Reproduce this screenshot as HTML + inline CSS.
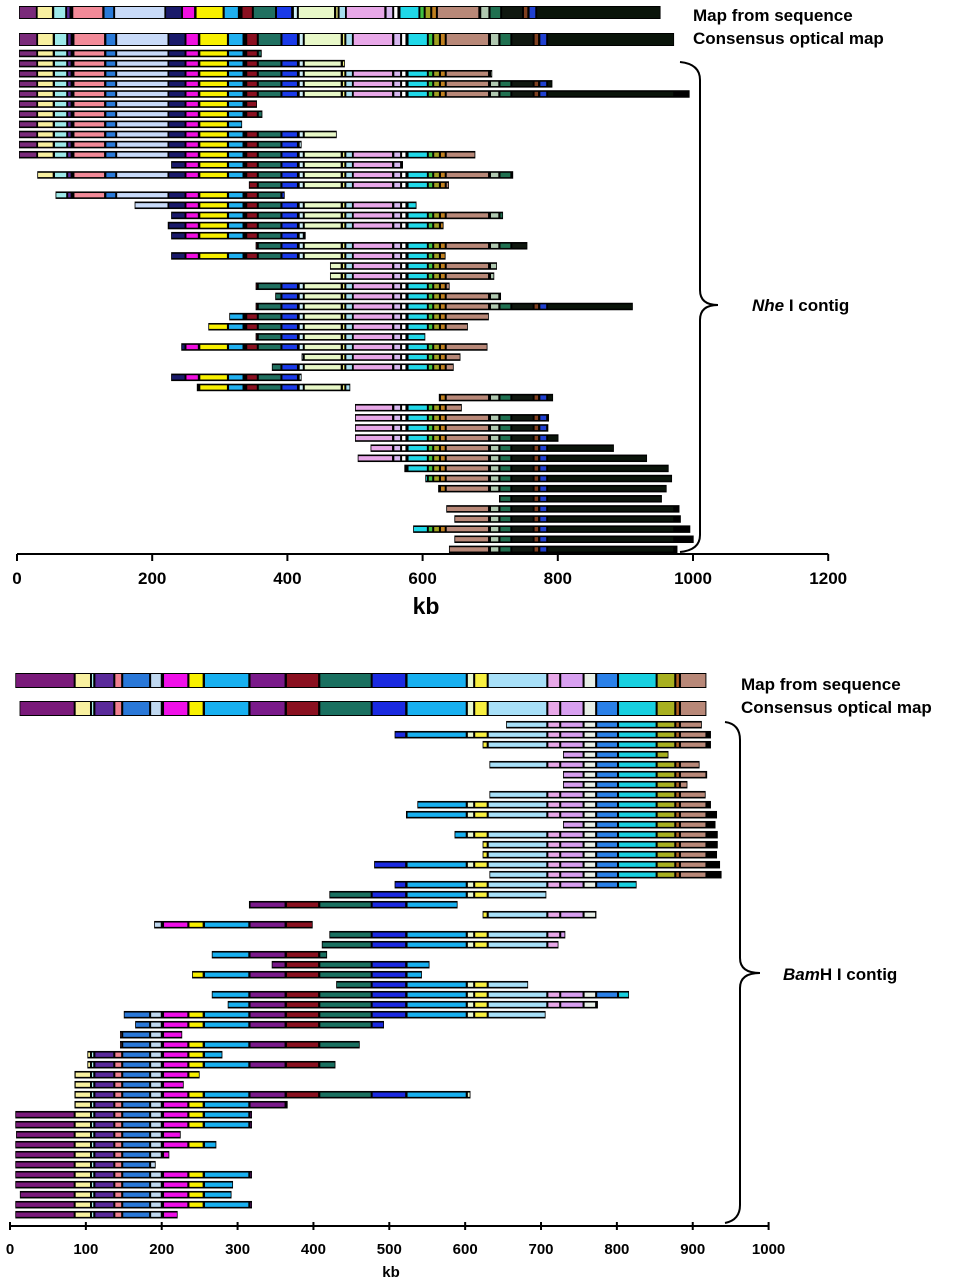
<!DOCTYPE html>
<html><head><meta charset="utf-8"><style>
html,body{margin:0;padding:0;background:#fff;}
svg{display:block;font-family:"Liberation Sans",sans-serif;}
</style></head><body>
<svg id="chart" width="953" height="1280" viewBox="0 0 953 1280" xmlns="http://www.w3.org/2000/svg">
<g id="top"></g>
<g id="bot"></g>
<text x="693" y="21" font-size="17" font-weight="bold">Map from sequence</text>
<text x="693" y="44" font-size="17" font-weight="bold">Consensus optical map</text>
<path d="M680,62 Q700,64 700,80 L700,290 Q700,305 718,305 Q700,305 700,320 L700,535 Q700,550 680,552" fill="none" stroke="#000" stroke-width="2"/>
<text x="752" y="311" font-size="17" font-weight="bold"><tspan font-style="italic">Nhe</tspan> I contig</text>
<text x="741" y="690" font-size="17" font-weight="bold">Map from sequence</text>
<text x="741" y="713" font-size="17" font-weight="bold">Consensus optical map</text>
<path d="M725,722 Q740,724 740,740 L740,958 Q740,973 760,973 Q740,973 740,988 L740,1205 Q740,1220 725,1223" fill="none" stroke="#000" stroke-width="2"/>
<text x="783" y="980" font-size="17" font-weight="bold"><tspan font-style="italic">Bam</tspan>H I contig</text>
</svg>
<script>
// ---- NheI data (kb) ----
const topReadStart=[3,3,3,3,3,3,3,3,3,3,3,228,30,343,57,174,228,223,228,353,228,463,463,353,382,353,314,283,353,243,421,377,228,266,624,500,500,500,500,523,504,573,604,623,713,635,647,586,647,639];
const topReadEnd=[362,485,703,792,995,355,363,333,473,421,678,571,734,639,396,591,719,631,427,755,634,710,706,640,716,911,698,667,604,696,656,646,421,493,793,658,787,786,801,883,932,964,969,961,954,980,982,996,1001,977];
const topSegStart=[3,30,55,74.5,83.8,131,147,224,249.5,270,312.5,339.4,356.5,391.5,417,424.5,481,486,497,557,568.5,578,608,616,626,634.5,700,714,731.5,764.5,773,784.5];
const topSegEnd=[29.7,54,74,80.5,130,146.5,223.8,249,268.7,311.7,334.8,355.9,390.9,415.3,423.9,480,485.4,496.6,556,567.9,575.8,607.5,615.4,625.3,633.9,698,713.2,731,764,772,784,972];
const topSegColor=['#7a2a7a','#f8f0a0','#9eeaea','#5a2a9a','#f28a98','#2a7ad8','#c8daf8','#1a1a6a','#f010e0','#f8f000','#20b0f0','#8a1020','#207060','#1a3ae8','#d0f0f8','#e8f8c8','#f0f080','#a8e0f0','#e8a8e8','#d8b8f0','#ffffff','#20d8e8','#40c040','#a0a020','#c08020','#b88878','#b0c8b0','#207050','#101810','#804020','#2040d0','#0a140a'];
const topTicks=[0,200,400,600,800,1000,1200];
// ---- BamHI data (kb) ----
const botReadStart=[654,507,623,729,632,729,729,632,537,522,729,586,623,623,480,632,507,421,315,623,190,421,411,266,345,240,430,266,287,150,165,145,145,102,102,85,85,85,85,7,7,8,7,7,7,7,7,13,7,7];
const botReadEnd=[912,924,924,868,909,919,893,917,924,932,930,933,933,932,936,938,826,707,590,773,399,732,723,418,553,543,683,816,775,706,493,227,461,280,429,250,229,607,366,319,319,225,272,210,192,319,294,292,319,221];
const botSegStart=[0,85.5,107,111.5,137.8,148.2,185,202,235.5,256,316,364,408,477,523,602.5,612.2,630,708.6,725.6,756.4,773,801.8,852.7,877.3,883.4];
const botSegEnd=[85,106.5,110.8,137.2,147.6,184.4,199.8,234.8,255,315.2,363,407.2,476.5,522,601.8,611.6,629.4,708,725,755.8,772.4,801.2,852.1,876.7,882.8,917.8];
const botSegColor=['#7a1a7a','#f8f0a0','#a8f0f0','#5a2a9a','#f08090','#2a78d8','#c0d8f0','#f010e8','#f8f000','#18b0f0','#7a1a8a','#8a1020','#1a7060','#1a2ae0','#18b0f0','#e8f8d0','#f8f040','#a8e0f8','#e8a8e8','#d8a0f0','#e8f0e8','#2a80e8','#18d0e0','#a8b020','#b06020','#b88878'];
const botTicks=[0,100,200,300,400,500,600,700,800,900,1000];

const NS='http://www.w3.org/2000/svg';
function mk(tag,attrs,parent){const e=document.createElementNS(NS,tag);for(const k in attrs)e.setAttribute(k,attrs[k]);parent.appendChild(e);return e;}

function drawBar(g,xs,a,b,y,h,segS,segE,segC,name,inset){
  const r=mk('rect',{x:xs(a),y:y,width:xs(b)-xs(a),height:h,fill:'#000'},g);
  
  
  for(let i=0;i<segS.length;i++){
    const s=Math.max(a,segS[i]),e=Math.min(b,segE[i]);
    if(e-s<=0.5)continue;
    const x0=xs(s)+0.8,x1=xs(e)-0.8;
    if(x1-x0<=0.3)continue;
    const sr=mk('rect',{x:x0,y:y+inset,width:x1-x0,height:h-2*inset,fill:segC[i]},g);
    
    
  }
}

function panel(g,cfg){
  const xs=v=>cfg.x0+v*cfg.k;
  const seqScale=cfg.seqEnd/cfg.consEnd;
  const sS=cfg.segS.map(v=>v*seqScale),sE=cfg.segE.map(v=>v*seqScale);
  drawBar(g,xs,cfg.seqStart,cfg.seqEnd,cfg.seqY,cfg.mapH,sS,sE,cfg.segC,'map-from-sequence-bar',1);
  drawBar(g,xs,cfg.consStart,cfg.consEnd,cfg.consY,cfg.mapH,cfg.segS,cfg.segE,cfg.segC,'consensus-map-bar',1);
  for(let i=0;i<cfg.rs.length;i++){
    const y=cfg.row0+i*cfg.rowStep-cfg.readH/2;
    drawBar(g,xs,cfg.rs[i],cfg.re[i],y,cfg.readH,cfg.segS,cfg.segE,cfg.segC,'molecule-'+(i+1),1.6);
  }
  const ax=mk('line',{x1:xs(cfg.ticks[0]),x2:xs(cfg.ticks[cfg.ticks.length-1]),y1:cfg.axY,y2:cfg.axY,stroke:'#000','stroke-width':2},g);
  
  
  for(const t of cfg.ticks){
    const tk=mk('line',{x1:xs(t),x2:xs(t),y1:cfg.axY-cfg.tickUp,y2:cfg.axY+cfg.tickDn,stroke:'#000','stroke-width':2},g);
    
    
    const tl=mk('text',{x:xs(t),y:cfg.lblY,'font-size':cfg.lblSize,'font-weight':'bold','text-anchor':'middle'},g);
    tl.textContent=t;
    
    
  }
  const kt=mk('text',{x:cfg.kbX,y:cfg.kbY,'font-size':cfg.kbSize,'font-weight':'bold','text-anchor':'middle'},g);
  kt.textContent='kb';
  
  
}

panel(document.getElementById('top'),{x0:17,k:0.676,segS:topSegStart,segE:topSegEnd,segC:topSegColor,
  seqStart:3,seqEnd:952,consStart:3,consEnd:972,seqY:6,consY:33,mapH:13,
  rs:topReadStart,re:topReadEnd,row0:53.5,rowStep:10.12,readH:7.5,
  ticks:topTicks,axY:554,tickUp:0,tickDn:7,lblY:584,lblSize:17,kbX:426,kbY:614,kbSize:23});
panel(document.getElementById('bot'),{x0:10,k:0.7586,segS:botSegStart,segE:botSegEnd,segC:botSegColor,
  seqStart:7,seqEnd:918,consStart:12.6,consEnd:918,seqY:673,consY:701,mapH:15,
  rs:botReadStart,re:botReadEnd,row0:724.7,rowStep:10,readH:7.5,
  ticks:botTicks,axY:1226,tickUp:4,tickDn:4,lblY:1254,lblSize:15,kbX:391,kbY:1277,kbSize:15});
</script>
</body></html>
